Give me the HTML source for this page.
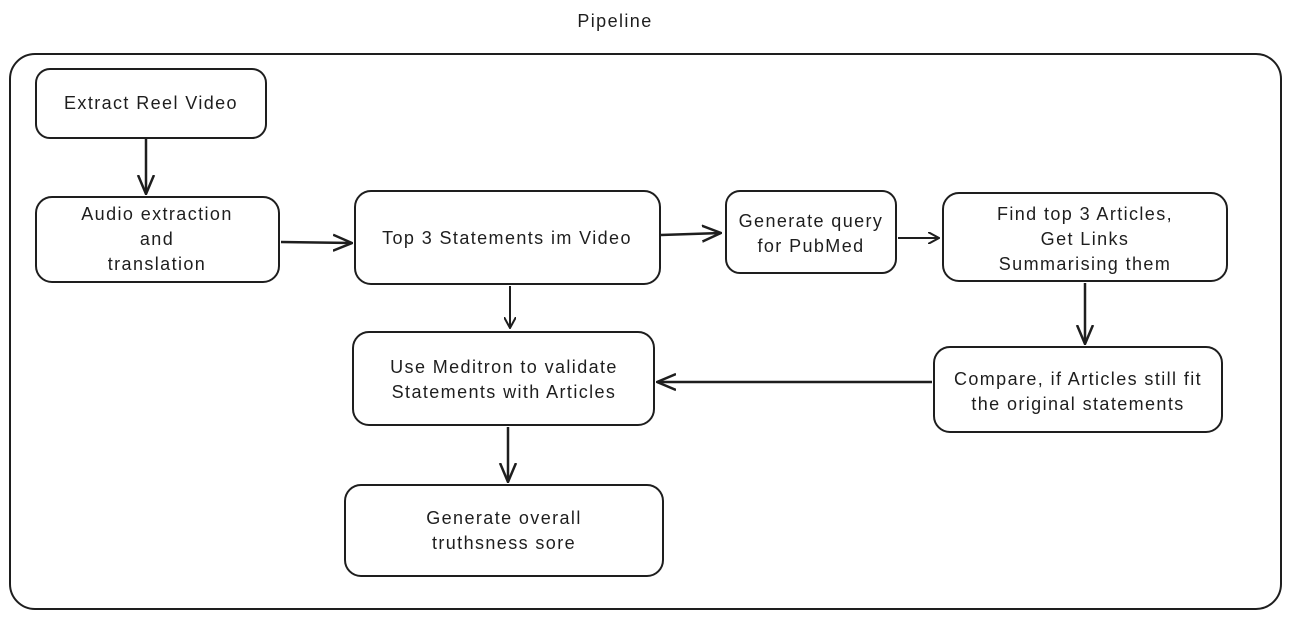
<!DOCTYPE html>
<html><head><meta charset="utf-8"><style>
html,body{margin:0;padding:0;background:#fff;}
svg text{font-family:"Liberation Sans",sans-serif;font-size:18px;letter-spacing:1.4px;fill:#1e1e1e;text-anchor:middle;}
</style></head><body>
<svg width="1291" height="619" viewBox="0 0 1291 619" xmlns="http://www.w3.org/2000/svg">
<defs><marker id="a" viewBox="0 0 12 12" refX="11" refY="6" markerWidth="12" markerHeight="12" markerUnits="userSpaceOnUse" orient="auto"><path d="M0,0 L11,6 L0,12" fill="none" stroke="#1e1e1e" stroke-width="2"/></marker>
<marker id="b" viewBox="0 0 20 20" refX="19" refY="10" markerWidth="20" markerHeight="20" markerUnits="userSpaceOnUse" orient="auto"><path d="M0,2 L19,10 L0,18" fill="none" stroke="#1e1e1e" stroke-width="2.5"/></marker></defs>
<g fill="none" stroke="#1e1e1e" stroke-width="2">
<rect x="10" y="54" width="1271" height="555" rx="25"/>
<rect x="36" y="69" width="230" height="69" rx="14"/>
<rect x="36" y="197" width="243" height="85" rx="16"/>
<rect x="355" y="191" width="305" height="93" rx="16"/>
<rect x="726" y="191" width="170" height="82" rx="14"/>
<rect x="943" y="193" width="284" height="88" rx="16"/>
<rect x="353" y="332" width="301" height="93" rx="16"/>
<rect x="934" y="347" width="288" height="85" rx="16"/>
<rect x="345" y="485" width="318" height="91" rx="16"/>
<path d="M146,139 L146,194" stroke-width="2.5" marker-end="url(#b)"/>
<path d="M281,242 L352,243" stroke-width="2.5" marker-end="url(#b)"/>
<path d="M661,235 L721,233" stroke-width="2.5" marker-end="url(#b)"/>
<path d="M898,238 L939,238" marker-end="url(#a)"/>
<path d="M1085,283 L1085,344" stroke-width="2.5" marker-end="url(#b)"/>
<path d="M510,286 L510,328" marker-end="url(#a)"/>
<path d="M932,382 L657,382" stroke-width="2.5" marker-end="url(#b)"/>
<path d="M508,427 L508,482" stroke-width="2.5" marker-end="url(#b)"/>
</g>
<text x="615" y="27">Pipeline</text>
<text x="151" y="109">Extract Reel Video</text>
<text x="157" y="220">Audio extraction</text>
<text x="157" y="245">and</text>
<text x="157" y="270">translation</text>
<text x="507" y="244">Top 3 Statements im Video</text>
<text x="811" y="227">Generate query</text>
<text x="811" y="252">for PubMed</text>
<text x="1085" y="220">Find top 3 Articles,</text>
<text x="1085" y="245">Get Links</text>
<text x="1085" y="270">Summarising them</text>
<text x="504" y="373">Use Meditron to validate</text>
<text x="504" y="398">Statements with Articles</text>
<text x="1078" y="385">Compare, if Articles still fit</text>
<text x="1078" y="410">the original statements</text>
<text x="504" y="524">Generate overall</text>
<text x="504" y="549">truthsness sore</text>
</svg>
</body></html>
